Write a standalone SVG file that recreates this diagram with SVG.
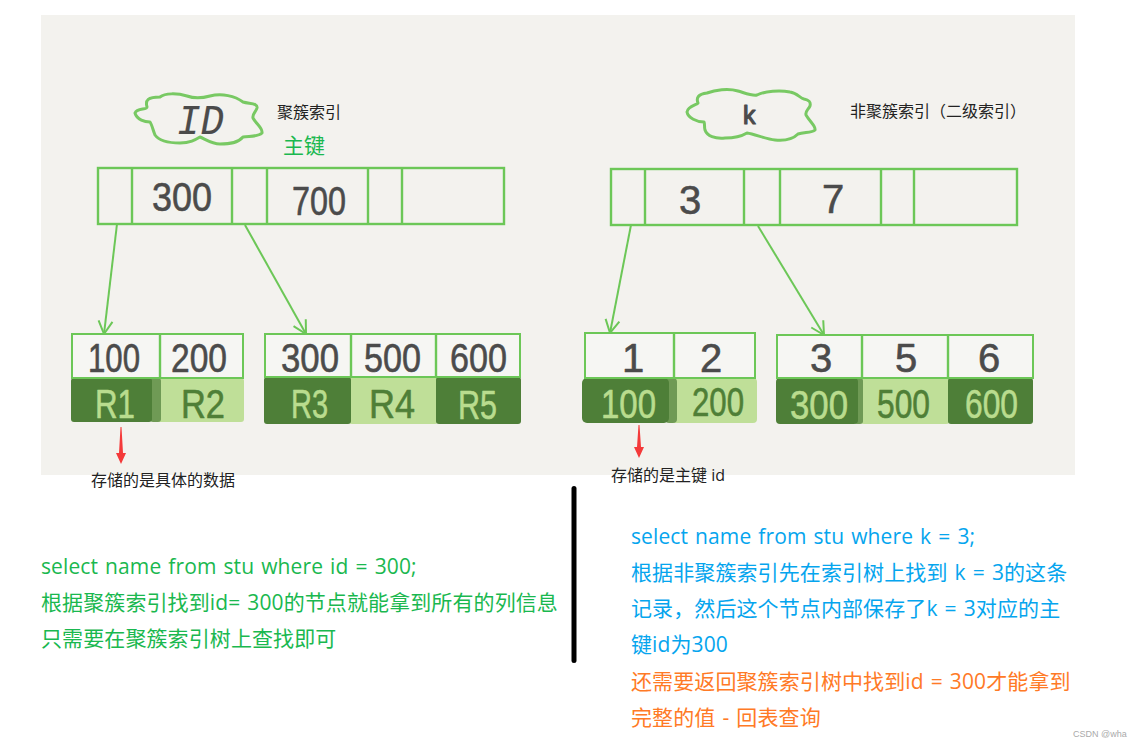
<svg xmlns="http://www.w3.org/2000/svg" width="1138" height="747" viewBox="0 0 1138 747">
<style>
.g{fill:none;stroke:#6cc757;stroke-width:2.4}
.cell{fill:#f6f6f3;stroke:#6cc757;stroke-width:2}
.cl{fill:none;stroke:#78c963;stroke-width:3;stroke-linejoin:round}
.h{font-family:"Liberation Sans",sans-serif;fill:#4b4b4b;font-size:40px;stroke:#4b4b4b;stroke-width:.6;stroke-linejoin:round}
.hl{fill:#b9dc8e;stroke:#b9dc8e}
.hd{fill:#4f7f37;stroke:#4f7f37}
.d{fill:#4e7f38}
.l{fill:#bfdf98}
.m{fill:#6f9a55}
.t{font-family:"Open Sans","Noto Sans CJK SC",sans-serif;font-size:16px;fill:#222}
.b{font-family:"Open Sans","Noto Sans CJK SC",sans-serif;font-size:21px;word-spacing:1.500px;letter-spacing:.1px}
.gt{fill:#1ab84f}.bt{fill:#05a5ee}.ot{fill:#ff7a26}
.c{fill:none;stroke:#6cc757;stroke-width:2}
</style>
<defs>
<marker id="open" markerWidth="20" markerHeight="20" refX="15" refY="10" orient="auto" markerUnits="userSpaceOnUse"><path d="M2 3L15 10L2 17" fill="none" stroke="#6cc757" stroke-width="2"/></marker>
</defs>
<rect x="0" y="0" width="1138" height="747" fill="#fff"/>
<rect x="41" y="15" width="1034" height="460" fill="#f3f2ee"/>

<g id="connectors">
<path class="c" d="M117 224L104 334" marker-end="url(#open)"/>
<path class="c" d="M245 225L306 334" marker-end="url(#open)"/>
<path class="c" d="M631 225L610 333" marker-end="url(#open)"/>
<path class="c" d="M758 226L824 335" marker-end="url(#open)"/>
<polygon points="120.500,427 121.500,427 123,453 126,453 121,464 116,453 119,453" fill="#f43a3a"/>
<polygon points="638.500,425 639.500,425 641,447 644,447 639,458 634,447 637,447" fill="#f43a3a"/>
</g>

<g id="cloud-id">
<path class="cl" d="M135 113C137 108 147 110 147 107C145 100 148 97 160 97C165 93 177 93 187 96C195 99 203 98 210 96C222 93 235 96 243 102C250 104 258 103 257 108C256 112 252 114 253 118C256 124 263 128 262 133C258 137 250 136 243 137C238 143 230 144 220 144C212 144 205 139 200 137C195 140 190 143 180 143C170 143 160 142 155 135C153 130 152 125 150 122C145 122 137 120 135 113Z"/>
<text class="h" style="font-size:42px;font-family:'Liberation Mono',monospace;font-style:italic;stroke-width:.2" x="177" y="134" textLength="47" lengthAdjust="spacingAndGlyphs">ID</text>
</g>
<g id="cloud-k">
<path class="cl" d="M687 112C688 106 697 105 698 103C696 98 698 94 707 93C715 90 728 88 738 91C745 93 752 96 757 95C765 91 780 90 790 92C797 93 800 98 804 99C809 100 811 102 810 106C808 110 805 111 806 115C810 122 816 126 815 130C812 133 804 132 798 134C793 139 785 141 775 140C765 139 755 134 747 133C742 136 737 138 725 138C715 139 707 136 705 130C704 126 705 124 704 122C697 122 688 118 687 112Z"/>
<text class="h" style="font-size:25px;stroke-width:1.200" x="743" y="124">k</text>
</g>

<g id="label-clustered"><text class="t" x="277" y="118">聚簇索引</text></g>
<g id="label-pk"><text class="t" style="font-size:21px;fill:#1ab84f" x="283" y="153">主键</text></g>
<g id="label-secondary"><text class="t" x="850" y="117">非聚簇索引（二级索引）</text></g>

<g id="node-root-left">
<rect class="g" x="98" y="168" width="406" height="56"/>
<path class="g" d="M132 168V224M232 168V224M267 168V224M368 168V224M402 168V224"/>
<text class="h" x="152" y="211" textLength="60" lengthAdjust="spacingAndGlyphs">300</text>
<text class="h" x="292" y="215" textLength="54" lengthAdjust="spacingAndGlyphs">700</text>
</g>
<g id="node-root-right">
<rect class="g" x="611" y="169" width="406" height="56"/>
<path class="g" d="M645 169V225M744 169V225M780 169V225M881 169V225M914 169V225"/>
<text class="h" x="679" y="214">3</text>
<text class="h" x="822" y="213">7</text>
</g>

<g id="node-leaf-1">
<rect class="l" x="156" y="378" width="88" height="44" rx="3"/>
<rect class="m" x="150" y="378" width="11" height="44" rx="3"/>
<rect class="d" x="71" y="378" width="81" height="44" rx="3"/>
<rect class="cell" x="72" y="334" width="171" height="44"/>
<path class="g" d="M160 334V378"/>
<text class="h" x="88" y="372" textLength="52" lengthAdjust="spacingAndGlyphs">100</text>
<text class="h" x="171" y="372" textLength="56" lengthAdjust="spacingAndGlyphs">200</text>
<text class="h hl" x="95" y="418" textLength="40" lengthAdjust="spacingAndGlyphs">R1</text>
<text class="h hd" x="181" y="418" textLength="44" lengthAdjust="spacingAndGlyphs">R2</text>
</g>
<g id="node-leaf-2">
<rect class="l" x="349" y="377" width="89" height="47" rx="3"/>
<rect class="d" x="264" y="377" width="87" height="47" rx="3"/>
<rect class="d" x="436" y="377" width="85" height="47" rx="3"/>
<rect class="cell" x="265" y="334" width="255" height="43"/>
<path class="g" d="M351 334V377M436 334V377"/>
<text class="h" x="281" y="372" textLength="58" lengthAdjust="spacingAndGlyphs">300</text>
<text class="h" x="364" y="372" textLength="57" lengthAdjust="spacingAndGlyphs">500</text>
<text class="h" x="450" y="372" textLength="57" lengthAdjust="spacingAndGlyphs">600</text>
<text class="h hl" x="291" y="418" textLength="37" lengthAdjust="spacingAndGlyphs">R3</text>
<text class="h hd" x="369" y="418" textLength="46" lengthAdjust="spacingAndGlyphs">R4</text>
<text class="h hl" x="458" y="419" textLength="39" lengthAdjust="spacingAndGlyphs">R5</text>
</g>
<g id="node-leaf-3">
<rect class="l" x="672" y="378" width="85" height="45" rx="4"/>
<rect class="m" x="665" y="378" width="12" height="45" rx="4"/>
<rect class="d" x="582" y="378" width="87" height="45" rx="5"/>
<rect class="cell" x="585" y="333" width="170" height="45"/>
<path class="g" d="M674 333V378"/>
<text class="h" x="622" y="372">1</text>
<text class="h" x="700" y="372">2</text>
<text class="h hl" x="601" y="418" textLength="55" lengthAdjust="spacingAndGlyphs">100</text>
<text class="h hd" x="692" y="416" textLength="52" lengthAdjust="spacingAndGlyphs">200</text>
</g>
<g id="node-leaf-4">
<rect class="l" x="860" y="378" width="90" height="46" rx="4"/>
<rect class="m" x="854" y="378" width="9" height="46" rx="3"/>
<rect class="d" x="776" y="378" width="82" height="46" rx="4"/>
<rect class="d" x="948" y="378" width="85" height="46" rx="3"/>
<rect class="cell" x="777" y="335" width="256" height="43"/>
<path class="g" d="M862 335V378M948 335V378"/>
<text class="h" x="810" y="372">3</text>
<text class="h" x="895" y="372">5</text>
<text class="h" x="978" y="372">6</text>
<text class="h hl" x="790" y="419" textLength="58" lengthAdjust="spacingAndGlyphs">300</text>
<text class="h hd" x="877" y="418" textLength="53" lengthAdjust="spacingAndGlyphs">500</text>
<text class="h hl" x="965" y="418" textLength="53" lengthAdjust="spacingAndGlyphs">600</text>
</g>

<g id="note-left"><text class="t" x="91" y="486">存储的是具体的数据</text></g>
<g id="note-right"><text class="t" x="611" y="481">存储的是主键 id</text></g>

<rect id="divider" x="571.500" y="486" width="5" height="177" rx="2.500" fill="#000"/>

<g id="text-left" class="b gt">
<text x="41" y="574">select name from stu where id = 300;</text>
<text x="41" y="610">根据聚簇索引找到id= 300的节点就能拿到所有的列信息</text>
<text x="41" y="646">只需要在聚簇索引树上查找即可</text>
</g>
<g id="text-right" class="b">
<text class="bt" x="631" y="544">select name from stu where k = 3;</text>
<text class="bt" x="631" y="580">根据非聚簇索引先在索引树上找到 k = 3的这条</text>
<text class="bt" x="631" y="616">记录，然后这个节点内部保存了k = 3对应的主</text>
<text class="bt" x="631" y="652">键id为300</text>
<text class="ot" x="631" y="689">还需要返回聚簇索引树中找到id = 300才能拿到</text>
<text class="ot" x="631" y="725">完整的值 - 回表查询</text>
</g>
<text x="1073" y="737" font-family="Liberation Sans,sans-serif" font-size="9" fill="#aaa">CSDN @wha</text>
</svg>
